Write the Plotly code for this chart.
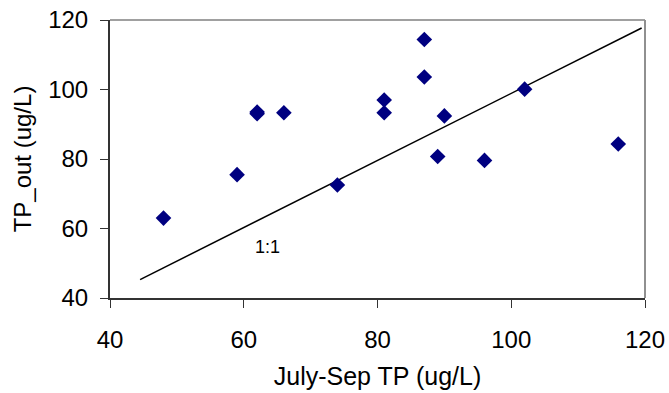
import plotly.graph_objects as go

# Data
july_sep_tp = [48, 59, 62, 62, 66, 74, 81, 81, 87, 87, 90, 89, 96, 102, 116]
tp_out = [63, 75.5, 93.5, 93, 93.3, 72.5, 97, 93.3, 114.4, 103.6, 92.4, 80.7, 79.6, 100.1, 84.3]

line_x = [44.5, 119.5]
line_y = [45.3, 117.7]

x_ticks = [40, 60, 80, 100, 120]
y_ticks = [40, 60, 80, 100, 120]

FONT = "Liberation Sans, Arial, sans-serif"

fig = go.Figure()
fig.add_trace(go.Scatter(
    x=line_x, y=line_y, mode="lines",
    line=dict(color="black", width=1.5), showlegend=False, hoverinfo="skip"))
fig.add_trace(go.Scatter(
    x=july_sep_tp, y=tp_out, mode="markers",
    marker=dict(symbol="diamond", size=12, color="#000080"),
    showlegend=False))

fig.add_annotation(x=63.5, y=54.7, text="1:1", showarrow=False,
                   font=dict(family="Liberation Sans", size=18, color="black"))

# top and right gray frame
fig.add_shape(type="line", xref="paper", yref="paper", x0=0, x1=1, y0=1, y1=1,
              line=dict(color="#a0a0a0", width=2))
fig.add_shape(type="line", xref="paper", yref="paper", x0=1, x1=1, y0=0, y1=1,
              line=dict(color="#909090", width=2))

fig.update_xaxes(range=[40, 120], tickvals=x_ticks, ticks="outside", ticklen=8,
                 tickcolor="#333333", showline=True, linecolor="#333333", linewidth=2,
                 showgrid=False, zeroline=False, automargin=False, ticklabelstandoff=11,
                 tickfont=dict(family=FONT, size=24, color="black"),
                 title=dict(text="July-Sep TP (ug/L)", font=dict(family=FONT, size=25, color="black"),
                            standoff=16))
fig.update_yaxes(range=[40, 120], tickvals=y_ticks, ticks="outside", ticklen=8,
                 tickcolor="#333333", showline=True, linecolor="#333333", linewidth=2,
                 showgrid=False, zeroline=False, automargin=False, ticklabelstandoff=7,
                 tickfont=dict(family=FONT, size=24, color="black"),
                 title=dict(text="TP_out (ug/L)", font=dict(family=FONT, size=24, color="black"),
                            standoff=10))

fig.update_layout(width=669, height=393, margin=dict(l=110, r=24, t=20, b=95),
                  paper_bgcolor="white", plot_bgcolor="white")

fig.write_html("out.html")
